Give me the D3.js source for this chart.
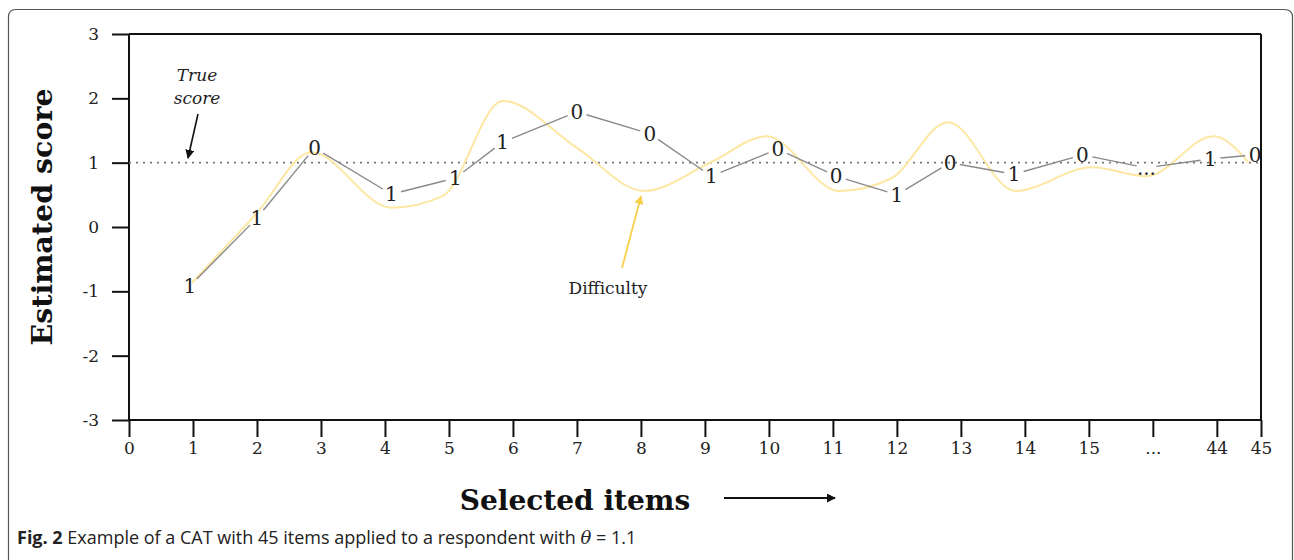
<!DOCTYPE html>
<html>
<head>
<meta charset="utf-8">
<script src="https://cdnjs.cloudflare.com/ajax/libs/d3/7.8.5/d3.min.js"></script>
<style>
  body { margin: 0; background: #fff; }
  svg { display: block; }
</style>
</head>
<body>
<script>
// Chart size
var width = 1294;
var height = 560;

// x axis ticks: positions on a linear scale and the labels shown there
var tickPos = [0, 1, 2, 3, 4, 5, 6, 7, 8, 9, 10, 11, 12, 13, 14, 15, 16, 17, 17.69];
var tickLabels = ["0", "1", "2", "3", "4", "5", "6", "7", "8", "9", "10", "11", "12", "13", "14", "15", "...", "44", "45"];
var yTicks = [3, 2, 1, 0, -1, -2, -3];

// Estimated score after each item, with the item response (1 / 0)
var itemPos = [0.95, 2.0, 2.9, 4.1, 5.1, 5.84, 7.0, 8.14, 9.1, 10.14, 11.05, 12.0, 12.83, 13.83, 14.9, 15.9, 16.9, 17.6];
var responses = ["1", "1", "0", "1", "1", "1", "0", "0", "1", "0", "0", "1", "0", "1", "0", "...", "1", "0"];
var estimates = [-0.92, 0.14, 1.23, 0.51, 0.76, 1.32, 1.79, 1.45, 0.79, 1.21, 0.79, 0.5, 1.0, 0.82, 1.12, 0.92, 1.06, 1.12];

// Difficulty of the selected items
var diffPos = [0.98, 2.0, 2.85, 4.1, 4.9, 5.84, 7.0, 8.05, 9.1, 9.96, 11.1, 11.9, 12.8, 13.85, 15.05, 15.9, 16.95, 17.5];
var difficulty = [-0.87, 0.22, 1.16, 0.3, 0.48, 1.96, 1.23, 0.56, 1.01, 1.41, 0.56, 0.75, 1.63, 0.56, 0.93, 0.79, 1.41, 1.0];

var trueScore = 1.0;

var svg = d3.select("body").append("svg")
  .attr("width", width)
  .attr("height", height);

var defs = svg.append("defs");
function marker(id, color) {
  defs.append("marker")
    .attr("id", id)
    .attr("viewBox", "0 0 10 10")
    .attr("refX", 9).attr("refY", 5)
    .attr("markerWidth", 9).attr("markerHeight", 9)
    .attr("markerUnits", "userSpaceOnUse")
    .attr("orient", "auto")
    .append("path")
    .attr("d", "M0,0 L10,5 L0,10 z")
    .attr("fill", color);
}
marker("arrBlack", "#111");
marker("arrYellow", "#f9d04a");
marker("arrBig", "#111");

// frame of the figure
svg.append("path")
  .attr("d", "M8.5,570 L8.5,17 Q8.5,9.5 16,9.5 L1284,9.5 Q1292.5,9.5 1292.5,17 L1292.5,570")
  .attr("fill", "none")
  .attr("stroke", "#555")
  .attr("stroke-width", 1.2);

var x = d3.scaleLinear().domain([0, 17.69]).range([129, 1261]);
var y = d3.scaleLinear().domain([-3, 3]).range([420, 34]);

var serif = "'DejaVu Serif', serif";

// axes
var gx = svg.append("g")
  .attr("transform", "translate(0," + y(-3) + ")")
  .call(d3.axisBottom(x)
    .tickValues(tickPos)
    .tickSize(17)
    .tickPadding(5)
    .tickFormat(function(d, i) { return tickLabels[i]; }));

var gy = svg.append("g")
  .attr("transform", "translate(" + x(0) + ",0)")
  .call(d3.axisLeft(y)
    .tickValues(yTicks)
    .tickSize(17)
    .tickPadding(13)
    .tickFormat(function(d) { return d; }));

[gx, gy].forEach(function(g) {
  g.select(".domain").attr("stroke", "#111").attr("stroke-width", 2);
  g.selectAll(".tick line").attr("stroke", "#111").attr("stroke-width", 2);
  g.selectAll(".tick text")
    .attr("fill", "#222")
    .style("font-family", serif)
    .style("font-size", "17px");
});
gy.select(".domain").attr("d", "M0," + y(3) + "V" + y(-3));
gx.select(".domain").attr("d", "M" + x(0) + ",0H" + x(17.69));

// top and right border of the plot
svg.append("line")
  .attr("x1", x(0)).attr("x2", x(17.69))
  .attr("y1", y(3)).attr("y2", y(3))
  .attr("stroke", "#111").attr("stroke-width", 2);
svg.append("line")
  .attr("x1", x(17.69)).attr("x2", x(17.69))
  .attr("y1", y(3)).attr("y2", y(-3))
  .attr("stroke", "#111").attr("stroke-width", 2);

// true score
svg.append("line")
  .attr("x1", x(0)).attr("x2", x(17.69))
  .attr("y1", y(trueScore)).attr("y2", y(trueScore))
  .attr("stroke", "#777")
  .attr("stroke-width", 1.6)
  .attr("stroke-dasharray", "2,5");

// difficulty curve
var diffPts = diffPos.map(function(d, i) { return [x(d), y(difficulty[i])]; });
svg.append("path")
  .attr("d", d3.line().curve(d3.curveMonotoneX)(diffPts))
  .attr("fill", "none")
  .attr("stroke", "#fde7a3")
  .attr("stroke-width", 2);

// estimated score path, drawn between the labels
var pts = itemPos.map(function(d, i) { return [x(d), y(estimates[i])]; });
var gap = 10;
for (var i = 0; i < pts.length - 1; i++) {
  var a = pts[i], b = pts[i + 1];
  var dx = b[0] - a[0], dy = b[1] - a[1];
  var len = Math.sqrt(dx * dx + dy * dy);
  var ux = dx / len, uy = dy / len;
  svg.append("line")
    .attr("x1", a[0] + ux * gap).attr("y1", a[1] + uy * gap)
    .attr("x2", b[0] - ux * gap).attr("y2", b[1] - uy * gap)
    .attr("stroke", "#8a8a8a")
    .attr("stroke-width", 1.4);
}

svg.append("g").selectAll("text")
  .data(responses)
  .enter()
  .append("text")
  .attr("x", function(d, i) { return pts[i][0]; })
  .attr("y", function(d, i) { return pts[i][1]; })
  .attr("dy", "0.36em")
  .attr("text-anchor", "middle")
  .attr("font-family", "DejaVu Serif")
  .attr("font-size", 20)
  .attr("fill", "#222")
  .text(function(d) { return d; });

// annotations
svg.append("text")
  .attr("x", 197).attr("y", 81)
  .attr("text-anchor", "middle")
  .style("font-family", serif)
  .style("font-style", "italic")
  .style("font-size", "17px")
  .attr("fill", "#222")
  .text("True");
svg.append("text")
  .attr("x", 197).attr("y", 104)
  .attr("text-anchor", "middle")
  .style("font-family", serif)
  .style("font-style", "italic")
  .style("font-size", "17px")
  .attr("fill", "#222")
  .text("score");
svg.append("line")
  .attr("x1", 198).attr("y1", 114)
  .attr("x2", 188).attr("y2", 158)
  .attr("stroke", "#111").attr("stroke-width", 1.6)
  .attr("marker-end", "url(#arrBlack)");

svg.append("text")
  .attr("x", 608).attr("y", 294)
  .attr("text-anchor", "middle")
  .style("font-family", serif)
  .style("font-size", "17px")
  .attr("fill", "#222")
  .text("Difficulty");
svg.append("line")
  .attr("x1", 622).attr("y1", 268)
  .attr("x2", 641).attr("y2", 196)
  .attr("stroke", "#f9d04a").attr("stroke-width", 1.8)
  .attr("marker-end", "url(#arrYellow)");

// axis titles
svg.append("text")
  .attr("transform", "translate(52,217) rotate(-90)")
  .attr("text-anchor", "middle")
  .style("font-family", serif)
  .style("font-weight", "bold")
  .style("font-size", "28.5px")
  .attr("fill", "#111")
  .text("Estimated score");

svg.append("text")
  .attr("x", 575).attr("y", 510)
  .attr("text-anchor", "middle")
  .style("font-family", serif)
  .style("font-weight", "bold")
  .style("font-size", "28px")
  .attr("fill", "#111")
  .text("Selected items");
svg.append("line")
  .attr("x1", 724).attr("y1", 498)
  .attr("x2", 835).attr("y2", 498)
  .attr("stroke", "#111").attr("stroke-width", 2)
  .attr("marker-end", "url(#arrBig)");

// caption
var cap = svg.append("text")
  .attr("x", 17).attr("y", 544)
  .style("font-family", "'Open Sans', sans-serif")
  .style("font-size", "18px")
  .attr("fill", "#222");
cap.append("tspan").style("font-weight", "bold").text("Fig. 2");
cap.append("tspan").text(" Example of a CAT with 45 items applied to a respondent with ");
cap.append("tspan").style("font-family", serif).style("font-style", "italic").text("θ");
cap.append("tspan").text(" = 1.1");
</script>
</body>
</html>
